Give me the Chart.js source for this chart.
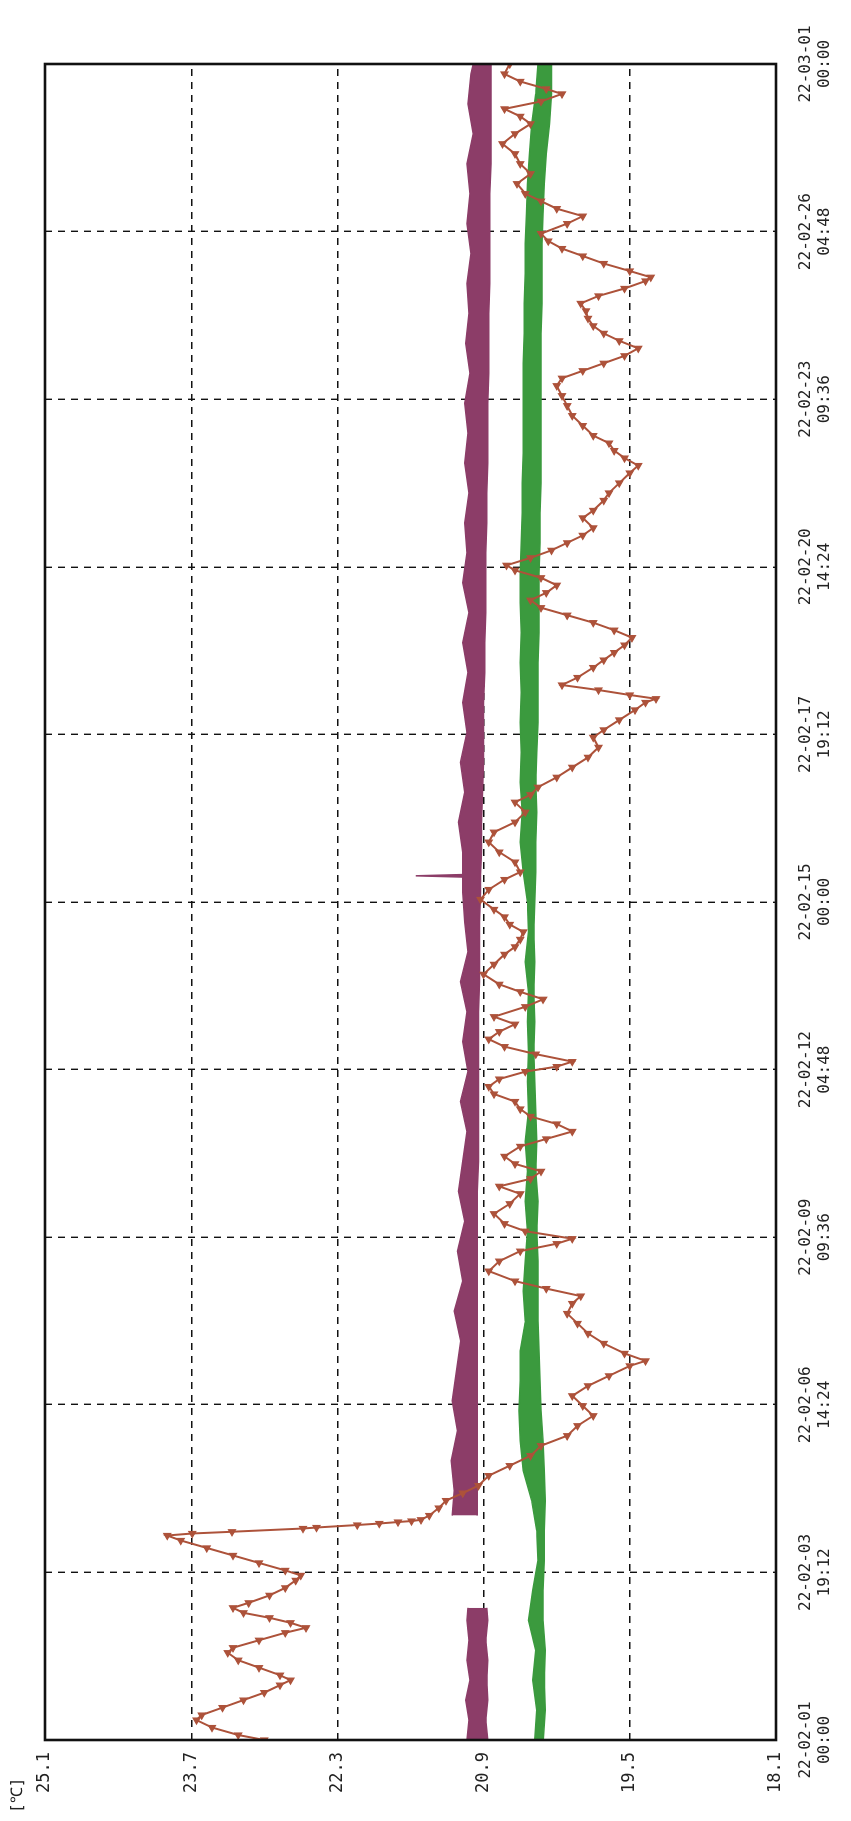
<!DOCTYPE html>
<html>
<head>
<meta charset="utf-8">
<script src="https://cdn.jsdelivr.net/npm/chart.js@4.4.1/dist/chart.umd.min.js"></script>
<style>
  html, body { margin: 0; padding: 0; background: #fff; }
  #wrap { position: relative; width: 851px; height: 1821px; overflow: hidden; }
  /* the chart is drawn upright and turned a quarter left, like the scanned printout */
  #chart { position: absolute; left: 0; top: 0; transform-origin: 0 0; transform: translateY(1821px) rotate(-90deg); }
</style>
</head>
<body>
<div id="wrap"><canvas id="chart" width="1821" height="851"></canvas></div>
<script>
// ── DATA ──────────────────────────────────────────────────────────────────────
// time in hours from 22-02-01 00:00, temperature in °C

const timeTicks  = [0, 67.2, 134.4, 201.6, 268.8, 336, 403.2, 470.4, 537.6, 604.8, 672]
const dateLabels = ['22-02-01','22-02-03','22-02-06','22-02-09','22-02-12','22-02-15','22-02-17','22-02-20','22-02-23','22-02-26','22-03-01']
const hourLabels = ['00:00','19:12','14:24','09:36','04:48','00:00','19:12','14:24','09:36','04:48','00:00']
const tempTicks  = [18.1, 19.5, 20.9, 22.3, 23.7, 25.1]

// brown sensor [hour, °C]
const brownPoints = [
  [0,23.0],[2,23.25],[5,23.5],[8,23.65],[10,23.6],[13,23.4],[16,23.2],[19,23.0],[22,22.85],[24,22.75],
  [26,22.85],[29,23.05],[32,23.25],[35,23.35],[37,23.3],[40,23.05],[43,22.8],[45,22.6],[47,22.75],[49,22.95],
  [51,23.2],[53,23.3],[55,23.15],[58,22.95],[61,22.8],[64,22.7],[66,22.65],[68,22.8],[71,23.05],[74,23.3],
  [77,23.55],[80,23.8],[82,23.93],
  [82.8,23.69],[83.5,23.31],[84.8,22.63],[85.2,22.5],[86.2,22.11],[86.8,21.9],[87.4,21.72],[87.8,21.59],[88.3,21.5],
  [90,21.42],[93,21.33],[96,21.26],[99,21.1],
  [102,20.95],[106,20.85],[110,20.65],[114,20.45],[118,20.35],[122,20.1],[126,20.0],[130,19.85],[134,19.95],[138,20.05],
  [142,19.9],[146,19.7],[150,19.5],[152,19.35],[155,19.55],[159,19.75],[163,19.9],[167,20.0],[171,20.1],[175,20.05],
  [178,19.97],[181,20.3],[184,20.6],[188,20.85],[192,20.75],[196,20.55],[199,20.2],[201,20.05],[204,20.5],[207,20.7],
  [211,20.8],[215,20.65],[219,20.55],[222,20.75],[225,20.45],[228,20.35],[231,20.6],[234,20.7],[238,20.55],[241,20.3],
  [244,20.05],[247,20.2],[250,20.45],[253,20.55],[256,20.6],[259,20.8],[262,20.85],[265,20.75],[268,20.5],[270,20.2],
  [272,20.05],[275,20.4],[278,20.7],[281,20.85],[284,20.75],[287,20.6],[290,20.8],[294,20.5],[297,20.33],[300,20.55],
  [303,20.75],[307,20.9],[311,20.8],[315,20.7],[318,20.6],[321,20.55],[324,20.52],[327,20.65],[330,20.7],[333,20.8],
  [337,20.93],[341,20.85],[345,20.7],[348,20.55],[352,20.6],[356,20.75],[360,20.85],[364,20.8],[368,20.6],[372,20.5],
  [376,20.6],[379,20.45],[382,20.38],[386,20.2],[390,20.05],[394,19.9],[398,19.8],[402,19.85],[405,19.75],[409,19.6],
  [413,19.45],[416,19.35],[417.5,19.25],[419,19.5],[421,19.8],[423,20.15],[426,20.0],[430,19.85],[433,19.75],[436,19.65],
  [439,19.55],[442,19.48],[445,19.65],[448,19.85],[451,20.1],[454,20.35],[457,20.45],[460,20.3],[463,20.2],[466,20.35],
  [469,20.6],[471,20.68],[474,20.45],[477,20.25],[480,20.1],[483,19.95],[486,19.85],[490,19.95],[493,19.85],[497,19.75],
  [500,19.7],[504,19.6],[508,19.5],[511,19.42],[514,19.55],[517,19.65],[520,19.7],[523,19.85],[527,19.95],[531,20.05],
  [535,20.1],[539,20.15],[543,20.2],[546,20.15],[549,19.95],[552,19.75],[555,19.55],[558,19.42],[561,19.6],[564,19.75],
  [567,19.85],[570,19.9],[573,19.92],[576,19.97],[579,19.8],[582,19.55],[585,19.35],[586.5,19.3],[589,19.5],[592,19.75],
  [595,19.95],[598,20.15],[601,20.28],[604,20.35],[608,20.1],[611,19.95],[614,20.2],[617,20.35],[620,20.5],[624,20.58],
  [628,20.45],[632,20.55],[636,20.6],[640,20.72],[644,20.6],[648,20.45],[651,20.55],[654,20.7],[657,20.35],[660,20.15],
  [662,20.3],[665,20.55],[668,20.7],[672,20.65]
]

// green sensor, dense trace read as a band [hour, low °C, high °C]
const greenBand = [
  [0,20.33,20.41],[12,20.31,20.39],[24,20.32,20.43],[36,20.31,20.4],[48,20.33,20.47],[60,20.33,20.43],[72,20.32,20.38],
  [84,20.32,20.39],[96,20.31,20.44],[108,20.32,20.52],[120,20.33,20.55],[132,20.35,20.56],[144,20.36,20.55],[156,20.37,20.55],
  [168,20.38,20.5],[180,20.38,20.52],[192,20.38,20.5],[204,20.39,20.48],[216,20.38,20.5],[228,20.4,20.48],[240,20.39,20.5],
  [252,20.4,20.47],[264,20.41,20.48],[276,20.42,20.47],[288,20.41,20.48],[300,20.42,20.47],[312,20.41,20.5],[324,20.42,20.47],
  [336,20.41,20.48],[348,20.4,20.52],[360,20.4,20.55],[372,20.39,20.53],[384,20.4,20.55],[396,20.39,20.54],[408,20.38,20.55],
  [420,20.38,20.54],[432,20.38,20.55],[444,20.37,20.54],[456,20.37,20.55],[468,20.37,20.55],[480,20.36,20.54],[492,20.36,20.53],
  [504,20.35,20.53],[516,20.35,20.52],[528,20.35,20.52],[540,20.35,20.52],[552,20.35,20.52],[564,20.35,20.51],[576,20.34,20.51],
  [588,20.34,20.5],[600,20.34,20.5],[612,20.33,20.49],[624,20.32,20.48],[636,20.3,20.46],[648,20.27,20.44],[660,20.25,20.4],
  [672,20.25,20.38]
]

// purple sensor, first block before the logging gap [hour, low °C, high °C]
const purpleBandA = [
  [0,20.86,21.06],[8,20.88,21.04],[16,20.86,21.07],[24,20.87,21.03],[32,20.86,21.06],[40,20.88,21.04],[48,20.86,21.06],[53,20.87,21.05]
]

// purple sensor after the gap (spike near 22-02-15 11:00)
const purpleBandB = [
  [90,20.96,21.2],[100,20.96,21.18],[112,20.96,21.21],[124,20.96,21.15],[136,20.96,21.2],[148,20.96,21.16],[160,20.96,21.12],
  [172,20.96,21.18],[184,20.96,21.1],[196,20.96,21.15],[208,20.96,21.08],[220,20.96,21.14],[232,20.95,21.1],[244,20.95,21.06],
  [256,20.95,21.12],[268,20.95,21.05],[280,20.95,21.1],[292,20.95,21.06],[304,20.94,21.12],[316,20.94,21.05],[328,20.94,21.08],
  [340,20.93,21.1],[346,20.93,21.1],[346.5,20.93,21.55],[347,20.93,21.1],[356,20.92,21.1],[368,20.92,21.14],[380,20.91,21.08],
  [392,20.9,21.12],[404,20.9,21.06],[416,20.9,21.1],[428,20.89,21.05],[440,20.89,21.1],[452,20.88,21.04],[464,20.88,21.1],
  [476,20.88,21.06],[488,20.87,21.08],[500,20.87,21.04],[512,20.86,21.08],[524,20.86,21.05],[536,20.86,21.08],[548,20.85,21.03],
  [560,20.85,21.07],[572,20.85,21.04],[584,20.84,21.06],[596,20.84,21.02],[608,20.84,21.06],[620,20.84,21.03],[632,20.83,21.06],
  [644,20.83,21.0],[656,20.83,21.05],[668,20.83,21.02],[672,20.83,21.0]
]

const BROWN  = '#ad523a'
const GREEN  = '#3b9a3e'
const PURPLE = '#8c3d68'
const FONT   = "'DejaVu Sans Mono', 'Liberation Mono', monospace"

// ── HELPERS ───────────────────────────────────────────────────────────────────

const pts   = arr => arr.map(([x, y]) => ({ x, y }))
const lows  = arr => arr.map(([x, lo]) => ({ x, y: lo }))
const highs = arr => arr.map(([x, , hi]) => ({ x, y: hi }))

function bandPair(arr, color) {
  return [
    { data: highs(arr), borderColor: color, borderWidth: 1.5, pointRadius: 0, fill: false },
    { data: lows(arr),  borderColor: color, borderWidth: 1.5, pointRadius: 0, fill: '-1', backgroundColor: color }
  ]
}

// solid frame round the plot
const framePlugin = {
  id: 'frame',
  afterDatasetsDraw(chart) {
    const { ctx, chartArea: { left, top, right, bottom } } = chart
    ctx.save()
    ctx.strokeStyle = '#111'; ctx.lineWidth = 2.6
    ctx.strokeRect(left, top, right - left, bottom - top)
    ctx.restore()
  }
}

// unit above the temperature labels
const unitPlugin = {
  id: 'unit',
  afterDraw(chart) {
    const { ctx } = chart
    ctx.save()
    ctx.font = '16px ' + FONT; ctx.fillStyle = '#222'
    ctx.textAlign = 'left'; ctx.textBaseline = 'middle'
    ctx.fillText('[℃]', 8, 18)
    ctx.restore()
  }
}

// ── CHART ─────────────────────────────────────────────────────────────────────

new Chart(document.getElementById('chart'), {
  type: 'line',
  plugins: [framePlugin, unitPlugin],
  data: {
    datasets: [
      {
        data: pts(brownPoints), borderColor: BROWN, backgroundColor: BROWN, borderWidth: 2,
        pointStyle: 'triangle', pointRadius: 4, pointRotation: 270, pointBorderWidth: 1.2, fill: false
      },
      ...bandPair(greenBand, GREEN),
      ...bandPair(purpleBandA, PURPLE),
      ...bandPair(purpleBandB, PURPLE)
    ]
  },
  options: {
    responsive: false, animation: false, devicePixelRatio: 1,
    layout: { padding: { top: 45, right: 64, left: 0, bottom: 0 } },
    elements: { line: { tension: 0 } },
    plugins: { legend: { display: false }, tooltip: { enabled: false } },
    scales: {
      x: {
        type: 'linear', min: 0, max: 672,
        afterBuildTicks: s => { s.ticks = timeTicks.map(v => ({ value: v })) },
        afterFit: s => { s.height = 75 },
        grid: { color: '#111', lineWidth: 1.4, drawTicks: false },
        border: { display: false, dash: [7, 6] },
        ticks: {
          autoSkip: false, maxRotation: 0, minRotation: 0, padding: 20,
          color: '#222', font: { family: FONT, size: 16, lineHeight: 1.2 },
          callback: (v, i) => [dateLabels[i], hourLabels[i]]
        }
      },
      y: {
        type: 'linear', min: 18.1, max: 25.1,
        afterBuildTicks: s => { s.ticks = tempTicks.map(v => ({ value: v })) },
        afterFit: s => { s.width = 81 },
        grid: { color: '#111', lineWidth: 1.4, drawTicks: false },
        border: { display: false, dash: [7, 6] },
        ticks: {
          autoSkip: false, padding: 12,
          color: '#222', font: { family: FONT, size: 17 },
          callback: v => v.toFixed(1)
        }
      }
    }
  }
})
</script>
</body>
</html>
